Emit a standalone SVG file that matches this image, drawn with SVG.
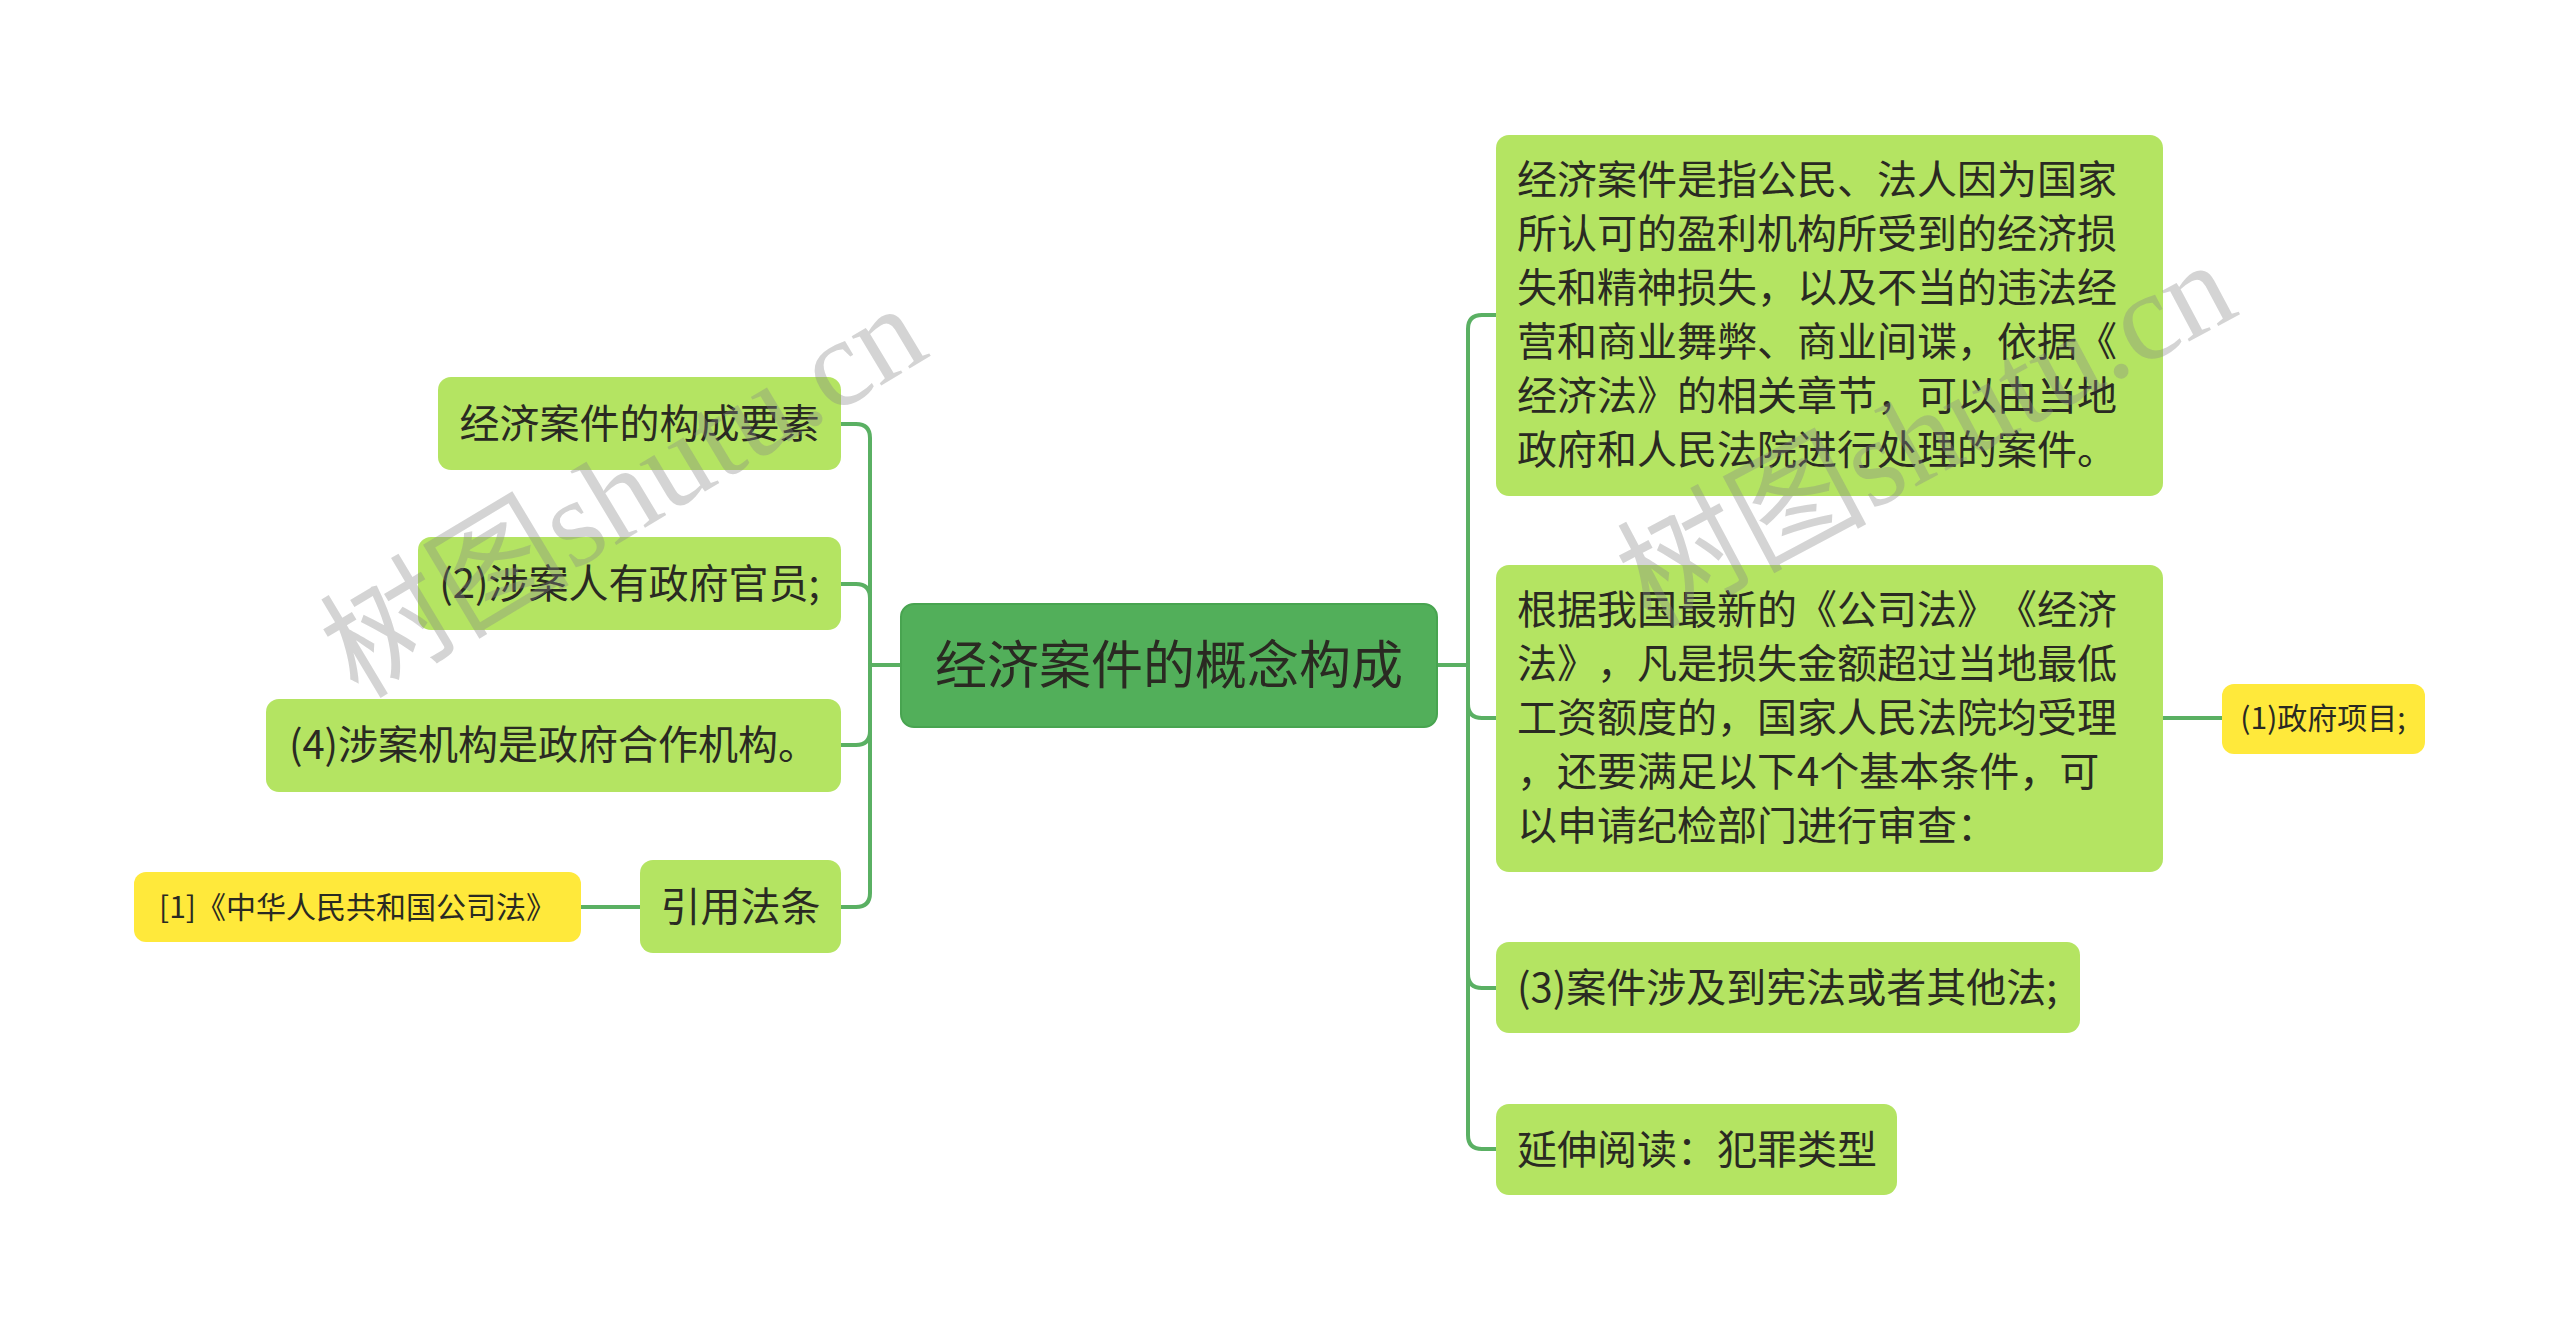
<svg xmlns="http://www.w3.org/2000/svg" width="2560" height="1331" viewBox="0 0 2560 1331">
<style>
.bg{fill:#ffffff}
.root{fill:#52af5a;stroke:#48a450;stroke-width:2}
.sub{fill:#b4e462}
.tag{fill:#ffe93b}
.t{font-family:"Noto Sans CJK SC","Noto Sans",sans-serif;fill:#2a2a22;text-spacing-trim:space-all}
.tr{font-size:52px;text-anchor:middle}
.tm{font-size:40px}
.tc{text-anchor:middle}
.ts{font-size:30px}
.conn path{fill:none;stroke:#5ab063;stroke-width:4;stroke-linecap:round}
.wm{font-family:"Liberation Serif","Noto Sans CJK SC",serif;font-size:125px;fill:#888888;fill-opacity:0.36}
</style>
<rect class="bg" x="0" y="0" width="2560" height="1331"/>
<g id="connectors" class="conn">
<path d="M901,665 H870"/>
<path d="M841,424 H856 Q870,424 870,438 V665"/>
<path d="M841,584 H856 Q870,584 870,598 V665"/>
<path d="M841,745 H856 Q870,745 870,731 V665"/>
<path d="M841,907 H856 Q870,907 870,893 V665"/>
<path d="M1437,665 H1468"/>
<path d="M1496,315 H1482 Q1468,315 1468,329 V665"/>
<path d="M1496,718 H1482 Q1468,718 1468,704 V665"/>
<path d="M1496,988 H1482 Q1468,988 1468,974 V665"/>
<path d="M1496,1149 H1482 Q1468,1149 1468,1135 V665"/>
<path d="M2163,718 H2222"/>
<path d="M640,907 H581"/>
</g>
<g id="root">
<rect class="root" x="901" y="604" width="536" height="123" rx="13"/>
<text class="t tr" x="1169" y="684">经济案件的概念构成</text>
</g>
<g id="n-r1">
<rect class="sub" x="1496" y="135" width="667" height="361" rx="13"/>
<text class="t tm" x="1517" y="194">经济案件是指公民、法人因为国家</text>
<text class="t tm" x="1517" y="248">所认可的盈利机构所受到的经济损</text>
<text class="t tm" x="1517" y="302">失和精神损失，以及不当的违法经</text>
<text class="t tm" x="1517" y="356">营和商业舞弊、商业间谍，依据《</text>
<text class="t tm" x="1517" y="410">经济法》的相关章节，可以由当地</text>
<text class="t tm" x="1517" y="464">政府和人民法院进行处理的案件。</text>
</g>
<g id="n-r2">
<rect class="sub" x="1496" y="565" width="667" height="307" rx="13"/>
<text class="t tm" x="1517" y="624">根据我国最新的《公司法》《经济</text>
<text class="t tm" x="1517" y="678">法》，凡是损失金额超过当地最低</text>
<text class="t tm" x="1517" y="732">工资额度的，国家人民法院均受理</text>
<text class="t tm" x="1517" y="786">，还要满足以下4个基本条件，可</text>
<text class="t tm" x="1517" y="840">以申请纪检部门进行审查：</text>
</g>
<g id="n-r2a">
<rect class="tag" x="2222" y="684" width="203" height="70" rx="12"/>
<text class="t ts tc" x="2323" y="729">(1)政府项目;</text>
</g>
<g id="n-r3">
<rect class="sub" x="1496" y="942" width="584" height="91" rx="13"/>
<text class="t tm" x="1517" y="1002">(3)案件涉及到宪法或者其他法;</text>
</g>
<g id="n-r4">
<rect class="sub" x="1496" y="1104" width="401" height="91" rx="13"/>
<text class="t tm" x="1517" y="1164">延伸阅读：犯罪类型</text>
</g>
<g id="n-l1">
<rect class="sub" x="438" y="377" width="403" height="93" rx="13"/>
<text class="t tm tc" x="639.5" y="438">经济案件的构成要素</text>
</g>
<g id="n-l2">
<rect class="sub" x="418" y="537" width="423" height="93" rx="13"/>
<text class="t tm tc" x="629.5" y="598">(2)涉案人有政府官员;</text>
</g>
<g id="n-l3">
<rect class="sub" x="266" y="699" width="575" height="93" rx="13"/>
<text class="t tm tc" x="553.5" y="759">(4)涉案机构是政府合作机构。</text>
</g>
<g id="n-l4">
<rect class="sub" x="640" y="860" width="201" height="93" rx="13"/>
<text class="t tm tc" x="740.5" y="921">引用法条</text>
</g>
<g id="n-l4a">
<rect class="tag" x="134" y="872" width="447" height="70" rx="12"/>
<text class="t tc" style="font-size:30px" x="357.5" y="918">[1]《中华人民共和国公司法》</text>
</g>
<g id="watermark">
<text class="wm" transform="translate(358,700) rotate(-31)">树图shutu.cn</text>
<text class="wm" transform="translate(1650,628) rotate(-28)">树图shutu.cn</text>
</g>
</svg>
